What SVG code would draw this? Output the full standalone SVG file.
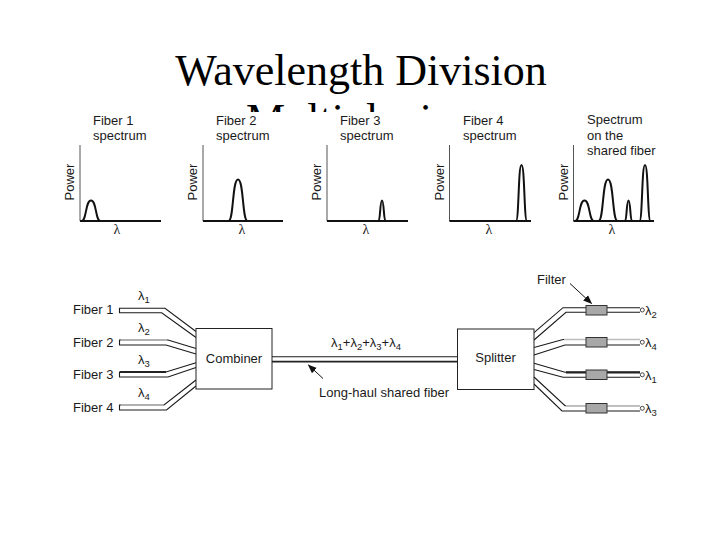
<svg xmlns="http://www.w3.org/2000/svg" width="720" height="540" viewBox="0 0 720 540">
<defs>
<style>
.t{font-family:"Liberation Sans",Arial,sans-serif;font-size:13px;fill:#1a1a1a}
.ttl{font-family:"Liberation Serif","Times New Roman",serif;font-size:44px;fill:#000;text-anchor:middle}
.lam{font-family:"Liberation Serif","Times New Roman",serif;font-size:14px;fill:#1a1a1a;text-anchor:middle}
.sub{font-size:9.5px}
.ax{fill:none;stroke:#555;stroke-width:1}
.base{fill:none;stroke:#111;stroke-width:2}
.pk{fill:none;stroke:#111;stroke-width:2;stroke-linejoin:round}
.box{fill:#fff;stroke:#222;stroke-width:1}
.ln{fill:none;stroke:#1a1a1a;stroke-width:1.1}
.gr{fill:none;stroke:#bdbdbd;stroke-width:1.3}
.dk{fill:none;stroke:#222;stroke-width:2.2}
.flt{fill:#a8a8a8;stroke:#333;stroke-width:1}
.end{fill:#fff;stroke:#333;stroke-width:0.9}
.arw{fill:none;stroke:#111;stroke-width:1;marker-end:url(#ah)}
</style>
<marker id="ah" viewBox="0 0 10 10" refX="9" refY="5" markerWidth="9" markerHeight="9" markerUnits="userSpaceOnUse" orient="auto">
<path d="M0,1 L10,5 L0,9 Z" fill="#111"/>
</marker>
</defs>
<rect width="720" height="540" fill="#fff"/>

<g id="title">
<text class="ttl" x="361" y="85">Wavelength Division</text>
<text class="ttl" x="361" y="134">Multiplexing</text>
<rect x="40" y="112" width="650" height="140" fill="#fff"/>
</g>

<g id="spectrum1">
<text class="t" x="93" y="125">Fiber 1</text>
<text class="t" x="93" y="140">spectrum</text>
<text class="t" transform="translate(74,182) rotate(-90)" text-anchor="middle">Power</text>
<path class="ax" d="M80,145 V221"/>
<path class="base" d="M80,221 H161"/>
<path class="pk" d="M81.5,221 C86.7,221 85.3,200.5 91,200.5 C96.7,200.5 95.3,221 100.5,221"/>
<text class="lam" x="117" y="234">λ</text>
</g>

<g id="spectrum2">
<text class="t" x="216" y="125">Fiber 2</text>
<text class="t" x="216" y="140">spectrum</text>
<text class="t" transform="translate(197,182) rotate(-90)" text-anchor="middle">Power</text>
<path class="ax" d="M203,145 V221"/>
<path class="base" d="M203,221 H283"/>
<path class="pk" d="M228.5,221 C233.7,221 232.3,179.5 238,179.5 C243.7,179.5 242.3,221 247.5,221"/>
<text class="lam" x="242" y="234">λ</text>
</g>

<g id="spectrum3">
<text class="t" x="340" y="125">Fiber 3</text>
<text class="t" x="340" y="140">spectrum</text>
<text class="t" transform="translate(321,182) rotate(-90)" text-anchor="middle">Power</text>
<path class="ax" d="M327,145 V221"/>
<path class="base" d="M327,221 H408"/>
<path class="pk" d="M378.5,221 C380.4,221 379.9,200.5 382,200.5 C384.1,200.5 383.6,221 385.5,221"/>
<text class="lam" x="366" y="234">λ</text>
</g>

<g id="spectrum4">
<text class="t" x="463" y="125">Fiber 4</text>
<text class="t" x="463" y="140">spectrum</text>
<text class="t" transform="translate(443.5,182) rotate(-90)" text-anchor="middle">Power</text>
<path class="ax" d="M449.5,145 V221"/>
<path class="base" d="M449.5,221 H531"/>
<path class="pk" d="M516,221 C519,221 518.2,165 521.5,165 C524.8,165 524,221 527,221"/>
<text class="lam" x="489" y="234">λ</text>
</g>

<g id="spectrum-shared">
<text class="t" x="587" y="124">Spectrum</text>
<text class="t" x="587" y="140">on the</text>
<text class="t" x="587" y="155">shared fiber</text>
<text class="t" transform="translate(567.5,182) rotate(-90)" text-anchor="middle">Power</text>
<path class="ax" d="M573.5,145 V221"/>
<path class="base" d="M573.5,221 H654"/>
<path class="pk" d="M575,221 C580.2,221 578.8,200.5 584.5,200.5 C590.2,200.5 588.8,221 594,221"/>
<path class="pk" d="M598.5,221 C603.7,221 602.3,179.5 608,179.5 C613.7,179.5 612.3,221 617.5,221"/>
<path class="pk" d="M625,221 C626.9,221 626.4,200.5 628.5,200.5 C630.6,200.5 630.1,221 632,221"/>
<path class="pk" d="M639.5,221 C642.5,221 641.7,165 645,165 C648.3,165 647.5,221 650.5,221"/>
<text class="lam" x="612" y="234">λ</text>
</g>

<g id="connectors">
<!-- input fibers -->
<path class="ln" d="M196,331.5 L165,308.3 H119.5 V312.7 H161.7 L196,337.5"/>
<path class="ln" d="M196,348.5 L168,340 H119.5 V345 H166 L196,354"/>
<path class="gr" d="M121,340 H167"/>
<path class="ln" d="M196,362.7 L166,372 H119.5 V377 H168 L196,367.5"/>
<path class="dk" d="M120,372 H166"/>
<path class="ln" d="M196,380 L164,405 H119.5 V410 H166.5 L196,386"/>
<path class="gr" d="M121,405 H163.5"/>
<!-- shared fiber -->
<path class="ln" d="M272,356.7 H457.5"/>
<path d="M272,361.7 H457.5" fill="none" stroke="#222" stroke-width="1.8"/>
<!-- output fibers -->
<path class="ln" d="M534,332.7 L563,307.7 H640"/>
<path class="ln" d="M534,340 L566,312.3 H640"/>
<path class="ln" d="M534,347.5 L563,339.5 H640"/>
<path class="gr" d="M564,339.5 H640"/>
<path class="ln" d="M534,355 L565,345 H640"/>
<path class="ln" d="M534,363.3 L565,372.3 H640"/>
<path class="dk" d="M566,372.3 H640"/>
<path class="ln" d="M534,369.5 L563,377.3 H640"/>
<path class="ln" d="M534,377 L565,405.7 H640"/>
<path class="gr" d="M566,405.7 H640"/>
<path class="ln" d="M534,384 L562,411 H640"/>
<!-- callout arrows -->
<path class="arw" d="M323,378.5 L308.5,365"/>
<path class="arw" d="M570,283.5 L591.5,303.5"/>
</g>

<g id="inputs">
<text class="t" x="73" y="314">Fiber 1</text>
<text class="t" x="73" y="347">Fiber 2</text>
<text class="t" x="73" y="379">Fiber 3</text>
<text class="t" x="73" y="412">Fiber 4</text>
<text class="t" x="138" y="299.5">λ<tspan class="sub" dy="3">1</tspan></text>
<text class="t" x="138" y="332">λ<tspan class="sub" dy="3">2</tspan></text>
<text class="t" x="138" y="364">λ<tspan class="sub" dy="3">3</tspan></text>
<text class="t" x="138" y="397">λ<tspan class="sub" dy="3">4</tspan></text>
</g>

<g id="combiner">
<rect class="box" x="196" y="328.5" width="76" height="60.5"/>
<text class="t" x="234" y="363" text-anchor="middle">Combiner</text>
</g>

<g id="shared-label">
<text class="t" x="331" y="347">λ<tspan class="sub" dy="3">1</tspan><tspan dy="-3">+λ</tspan><tspan class="sub" dy="3">2</tspan><tspan dy="-3">+λ</tspan><tspan class="sub" dy="3">3</tspan><tspan dy="-3">+λ</tspan><tspan class="sub" dy="3">4</tspan></text>
<text class="t" x="319" y="397">Long-haul shared fiber</text>
</g>

<g id="splitter">
<rect class="box" x="457.5" y="329" width="76.5" height="60.5"/>
<text class="t" x="495.5" y="362" text-anchor="middle">Splitter</text>
</g>

<g id="filters">
<text class="t" x="537" y="284">Filter</text>
<rect class="flt" x="586" y="305.5" width="21" height="9.5"/>
<rect class="flt" x="586" y="337.5" width="21" height="9.5"/>
<rect class="flt" x="586" y="370" width="21" height="9.5"/>
<rect class="flt" x="586" y="403.5" width="21" height="9.5"/>
</g>

<g id="outputs">
<circle class="end" cx="642.3" cy="310" r="2"/>
<circle class="end" cx="642.3" cy="342.2" r="2"/>
<circle class="end" cx="642.3" cy="374.8" r="2"/>
<circle class="end" cx="642.3" cy="408.3" r="2"/>
<text class="t" x="645" y="315">λ<tspan class="sub" dy="3">2</tspan></text>
<text class="t" x="645" y="347">λ<tspan class="sub" dy="3">4</tspan></text>
<text class="t" x="645" y="380">λ<tspan class="sub" dy="3">1</tspan></text>
<text class="t" x="645" y="413">λ<tspan class="sub" dy="3">3</tspan></text>
</g>
</svg>
